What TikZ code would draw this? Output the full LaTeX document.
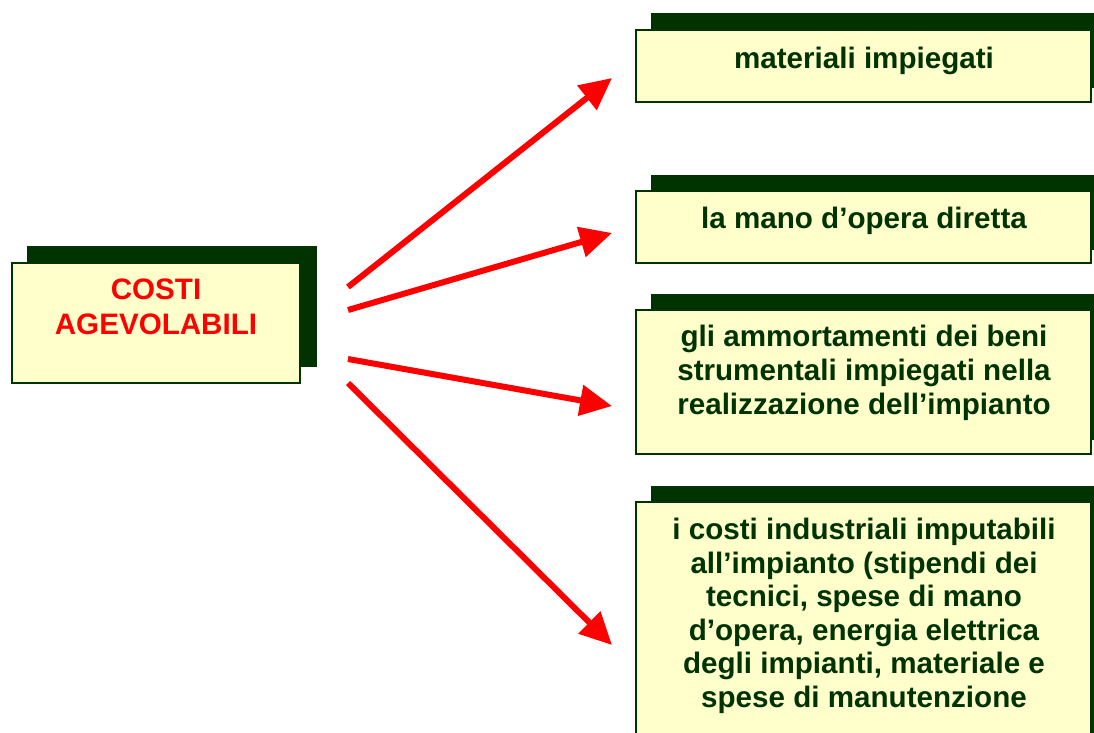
\documentclass[tikz,border=0pt]{standalone}
\usepackage{fontspec}
\setmainfont{Liberation Sans}
\usetikzlibrary{arrows.meta}
\definecolor{boxfill}{HTML}{FFFFCC}
\definecolor{darkgreen}{HTML}{003300}
\definecolor{arrowred}{HTML}{FF0000}
\begin{document}
\begin{tikzpicture}[x=1pt,y=-1pt,
  shadowbox/.style={fill=darkgreen,draw=none},
  frontbox/.style={fill=boxfill,draw=darkgreen,line width=1.5pt},
  greentext/.style={text=darkgreen,font=\fontsize{29.6}{34}\selectfont\bfseries,align=center,inner sep=0pt},
  redtext/.style={text=arrowred,font=\fontsize{29.6}{35}\selectfont\bfseries,align=center,inner sep=0pt},
  redarrow/.style={draw=arrowred,line width=6pt,-{Triangle[length=32pt,width=30pt]}}]
\useasboundingbox (0,0) rectangle (1094,732);

% left box
\fill[shadowbox] (27,246) rectangle (317,367);
\draw[frontbox] (12,263) rectangle (300,383);
\node[redtext] (src) at (156,307) {COSTI\\AGEVOLABILI};

% right boxes
\fill[shadowbox] (651,13) rectangle (1100,88);
\draw[frontbox] (636,30) rectangle (1091,102);
\node[greentext] (b1) at (864,61) {materiali impiegati};

\fill[shadowbox] (651,175) rectangle (1100,250);
\draw[frontbox] (636,191) rectangle (1091,263);
\node[greentext] (b2) at (864,221) {la mano d’opera diretta};

\fill[shadowbox] (651,294) rectangle (1100,440);
\draw[frontbox] (636,310) rectangle (1091,454);
\node[greentext] (b3) at (864,373) {gli ammortamenti dei beni\\strumentali impiegati nella\\realizzazione dell’impianto};

\fill[shadowbox] (651,486) rectangle (1100,740);
\draw[frontbox] (636,502) rectangle (1091,745);
\node[greentext,font=\fontsize{29.6}{33.5}\selectfont\bfseries] (b4) at (864,616) {i costi industriali imputabili\\all’impianto (stipendi dei\\tecnici, spese di mano\\d’opera, energia elettrica\\degli impianti, materiale e\\spese di manutenzione};

% arrows
\coordinate (s1) at (348,287); \coordinate (e1) at (612,78);
\coordinate (s2) at (348,310); \coordinate (e2) at (612,233);
\coordinate (s3) at (348,359); \coordinate (e3) at (612,406);
\coordinate (s4) at (348,383); \coordinate (e4) at (612,645);
\draw[redarrow] (s1) -- (e1);
\draw[redarrow] (s2) -- (e2);
\draw[redarrow] (s3) -- (e3);
\draw[redarrow] (s4) -- (e4);
\end{tikzpicture}
\end{document}
